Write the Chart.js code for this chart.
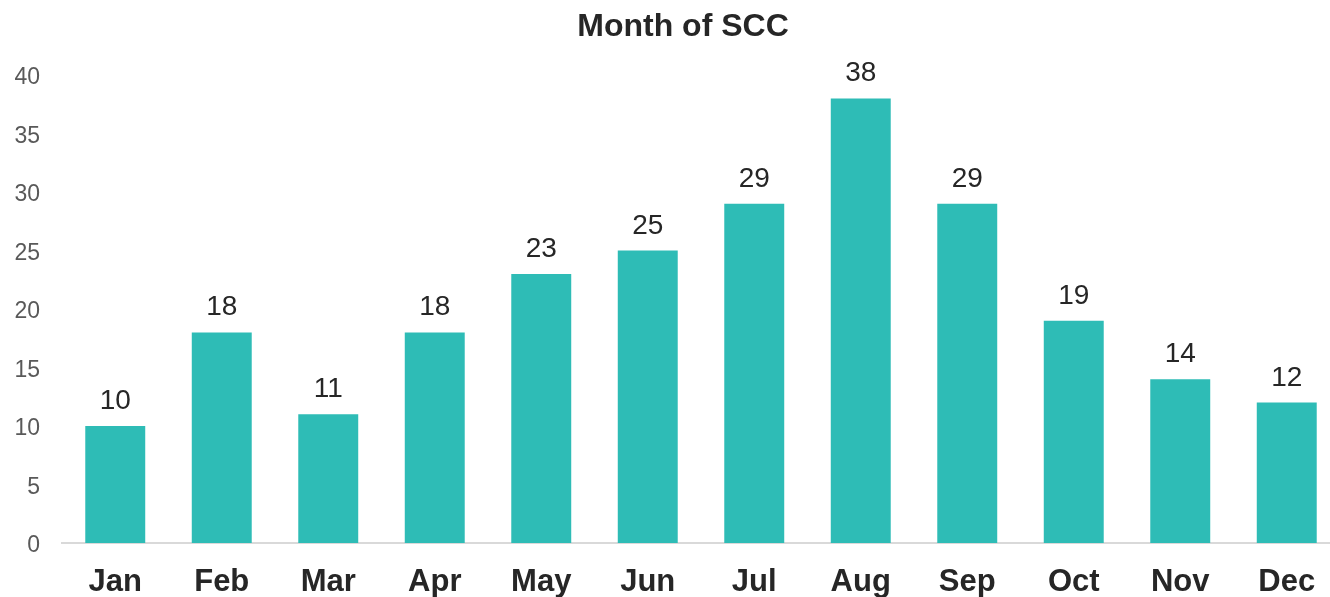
<!DOCTYPE html>
<html>
<head>
<meta charset="utf-8">
<script src="https://cdn.jsdelivr.net/npm/chart.js@4/dist/chart.umd.min.js"></script>
<style>
  html, body { margin: 0; padding: 0; background: #fff; overflow: hidden; }
  #wrap { width: 1330px; height: 597px; overflow: hidden; }
</style>
</head>
<body>
<div id="wrap"><canvas id="chart" width="1366" height="597"></canvas></div>
<script>
const months = ['Jan', 'Feb', 'Mar', 'Apr', 'May', 'Jun', 'Jul', 'Aug', 'Sep', 'Oct', 'Nov', 'Dec'];
const sccCounts = [10, 18, 11, 18, 23, 25, 29, 38, 29, 19, 14, 12];
const yTicks = [0, 5, 10, 15, 20, 25, 30, 35, 40];
const chartTitle = 'Month of SCC';

const FONT = '"Liberation Sans", Arial, sans-serif';

// title centred on the whole canvas, plus the value above each bar
const textLayer = {
  id: 'textLayer',
  afterDatasetsDraw(chart) {
    const ctx = chart.ctx;
    ctx.save();
    ctx.textAlign = 'center';
    ctx.textBaseline = 'alphabetic';

    ctx.font = 'bold 32px ' + FONT;
    ctx.fillStyle = '#262626';
    ctx.fillText(chartTitle, chart.width / 2, 36);

    ctx.font = '28px ' + FONT;
    const meta = chart.getDatasetMeta(0);
    meta.data.forEach((bar, i) => {
      ctx.fillText(sccCounts[i], bar.x, bar.y - 17);
    });
    ctx.restore();
  }
};

const ctx = document.getElementById('chart').getContext('2d');
new Chart(ctx, {
  type: 'bar',
  data: {
    labels: months,
    datasets: [{
      data: sccCounts,
      backgroundColor: '#2ebcb6',
      borderWidth: 0,
      barPercentage: 0.563,
      categoryPercentage: 1
    }]
  },
  options: {
    responsive: false,
    animation: false,
    layout: { padding: { left: 14, right: 26, top: 75, bottom: 0 } },
    plugins: {
      legend: { display: false },
      tooltip: { enabled: false },
      title: { display: false }
    },
    scales: {
      x: {
        grid: { display: false, drawTicks: false },
        border: { display: true, color: '#d9d9d9', width: 2 },
        ticks: {
          color: '#262626',
          padding: 21,
          font: { family: FONT, size: 31, weight: 'bold' }
        },
        afterFit(axis) {
          axis.paddingLeft = 0;
          axis.paddingRight = 0;
          axis.height = 54;
        }
      },
      y: {
        min: 0,
        max: 40,
        afterBuildTicks(axis) {
          axis.ticks = yTicks.map(v => ({ value: v }));
        },
        grid: { display: false, drawTicks: false },
        border: { display: false },
        ticks: {
          color: '#595959',
          padding: 22,
          labelOffset: 3,
          font: { family: FONT, size: 23 }
        },
        afterFit(axis) {
          axis.paddingTop = 0;
          axis.paddingBottom = 0;
          axis.width = 48;
        }
      }
    }
  },
  plugins: [textLayer]
});
</script>
</body>
</html>
